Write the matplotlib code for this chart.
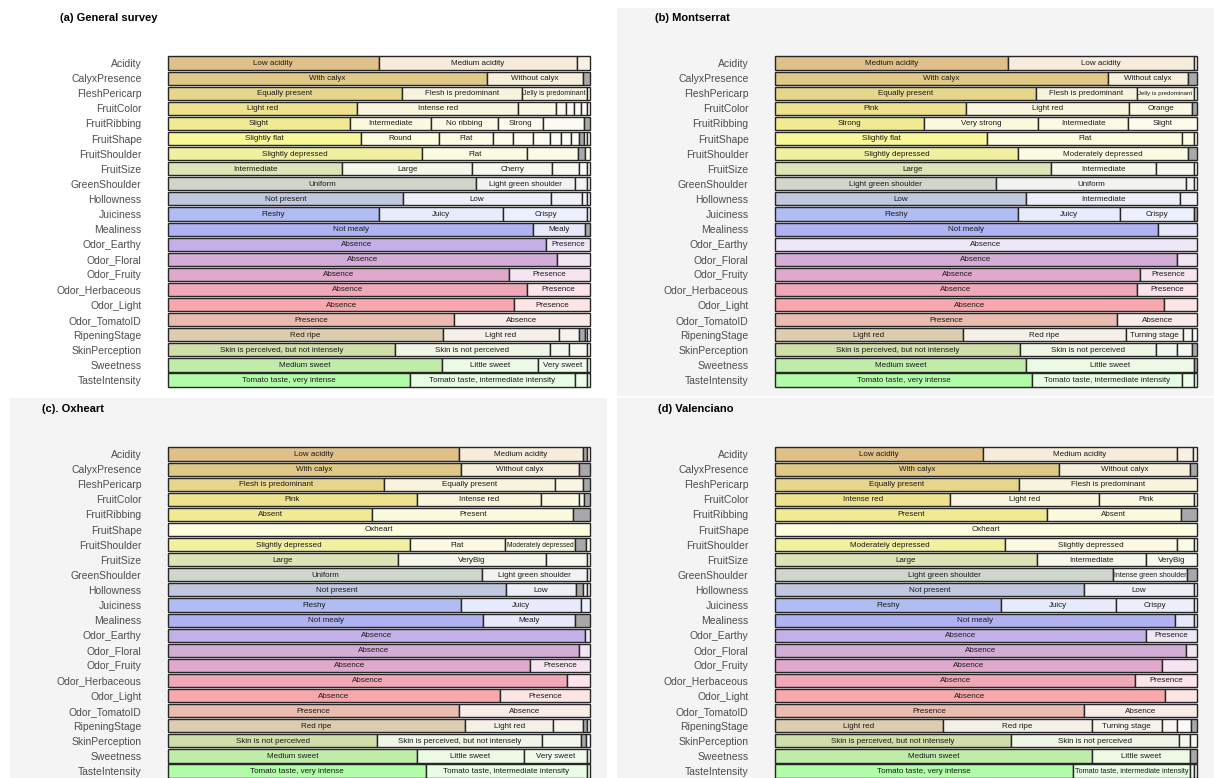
import matplotlib
matplotlib.use("Agg")
import matplotlib.pyplot as plt
from matplotlib.patches import Rectangle
from matplotlib.colors import to_rgb

plt.rcParams["font.family"] = ["Liberation Sans", "DejaVu Sans"]

W, H = 1214, 778

traits = ["Acidity", "CalyxPresence", "FleshPericarp", "FruitColor", "FruitRibbing",
          "FruitShape", "FruitShoulder", "FruitSize", "GreenShoulder", "Hollowness",
          "Juiciness", "Mealiness", "Odor_Earthy", "Odor_Floral", "Odor_Fruity",
          "Odor_Herbaceous", "Odor_Light", "Odor_TomatoID", "RipeningStage",
          "SkinPerception", "Sweetness", "TasteIntensity"]

trait_colors = ["#dfc089", "#e0c886", "#e6d68c", "#eee28e", "#f2ea92", "#f8f898",
                "#f0f0a0", "#dee4b8", "#d0d6cc", "#c0c8e0", "#b0bcf2", "#b0b2f4",
                "#c4b0e8", "#d4acd8", "#e0a8cc", "#f0a8b8", "#f8a8ac", "#eabcb0",
                "#dcccb0", "#d0deaa", "#c0ecaa", "#b0fca8"]

NA_COLOR = "#a8a8a8"

# (a) General survey
a_levels = [
    ["Low acidity", "Medium acidity", ""],
    ["With calyx", "Without calyx", "NA"],
    ["Equally present", "Flesh is predominant", "Jelly is predominant", ""],
    ["Light red", "Intense red", "", "", "", "", "", ""],
    ["Slight", "Intermediate", "No ribbing", "Strong", "", "NA"],
    ["Slightly flat", "Round", "Flat", "", "", "", "", "", "", "NA", "", ""],
    ["Slightly depressed", "Flat", "", "NA", ""],
    ["Intermediate", "Large", "Cherry", "", "", ""],
    ["Uniform", "Light green shoulder", "", ""],
    ["Not present", "Low", "", "", ""],
    ["Fleshy", "Juicy", "Crispy", ""],
    ["Not mealy", "Mealy", "NA"],
    ["Absence", "Presence"],
    ["Absence", "Presence"],
    ["Absence", "Presence"],
    ["Absence", "Presence"],
    ["Absence", "Presence"],
    ["Presence", "Absence"],
    ["Red ripe", "Light red", "", "NA", "", ""],
    ["Skin is perceived, but not intensely", "Skin is not perceived", "", "", ""],
    ["Medium sweet", "Little sweet", "Very sweet", ""],
    ["Tomato taste, very intense", "Tomato taste, intermediate intensity", "", ""],
]
a_shares = [
    [0.499, 0.471, 0.030],
    [0.755, 0.229, 0.016],
    [0.554, 0.285, 0.154, 0.007],
    [0.449, 0.381, 0.089, 0.024, 0.019, 0.017, 0.014, 0.007],
    [0.431, 0.193, 0.158, 0.107, 0.097, 0.014],
    [0.457, 0.185, 0.129, 0.047, 0.046, 0.042, 0.025, 0.025, 0.019, 0.011, 0.008, 0.006],
    [0.603, 0.248, 0.120, 0.018, 0.011],
    [0.413, 0.308, 0.190, 0.063, 0.018, 0.008],
    [0.730, 0.234, 0.028, 0.008],
    [0.556, 0.351, 0.075, 0.010, 0.008],
    [0.499, 0.296, 0.199, 0.006],
    [0.866, 0.123, 0.011],
    [0.895, 0.105],
    [0.921, 0.079],
    [0.809, 0.191],
    [0.851, 0.149],
    [0.821, 0.179],
    [0.678, 0.322],
    [0.651, 0.275, 0.049, 0.012, 0.007, 0.006],
    [0.538, 0.367, 0.046, 0.043, 0.006],
    [0.649, 0.227, 0.118, 0.006],
    [0.574, 0.390, 0.028, 0.008],
]

# (b) Montserrat
b_levels = [
    ["Medium acidity", "Low acidity", ""],
    ["With calyx", "Without calyx", "NA"],
    ["Equally present", "Flesh is predominant", "Jelly is predominant", ""],
    ["Pink", "Light red", "Orange", "NA"],
    ["Strong", "Very strong", "Intermediate", "Slight"],
    ["Slightly flat", "Flat", "", ""],
    ["Slightly depressed", "Moderately depressed", "NA"],
    ["Large", "Intermediate", "", ""],
    ["Light green shoulder", "Uniform", "", ""],
    ["Low", "Intermediate", ""],
    ["Fleshy", "Juicy", "Crispy", "NA"],
    ["Not mealy", "Mealy"],
    ["Absence"],
    ["Absence", "Presence"],
    ["Absence", "Presence"],
    ["Absence", "Presence"],
    ["Absence", "Presence"],
    ["Presence", "Absence"],
    ["Light red", "Red ripe", "Turning stage", "", ""],
    ["Skin is perceived, but not intensely", "Skin is not perceived", "", "", "NA"],
    ["Medium sweet", "Little sweet", "NA"],
    ["Tomato taste, very intense", "Tomato taste, intermediate intensity", "", ""],
]
b_shares = [
    [0.552, 0.441, 0.007],
    [0.789, 0.190, 0.021],
    [0.618, 0.239, 0.136, 0.007],
    [0.453, 0.386, 0.150, 0.011],
    [0.352, 0.272, 0.213, 0.163],
    [0.503, 0.462, 0.028, 0.007],
    [0.575, 0.404, 0.021],
    [0.653, 0.249, 0.091, 0.007],
    [0.524, 0.450, 0.019, 0.007],
    [0.595, 0.365, 0.040],
    [0.575, 0.243, 0.175, 0.007],
    [0.907, 0.093],
    [1.000],
    [0.952, 0.048],
    [0.864, 0.136],
    [0.857, 0.143],
    [0.921, 0.079],
    [0.811, 0.189],
    [0.445, 0.387, 0.134, 0.021, 0.013],
    [0.580, 0.322, 0.050, 0.037, 0.011],
    [0.595, 0.398, 0.007],
    [0.610, 0.355, 0.028, 0.007],
]

# (c) Oxheart
c_levels = [
    ["Low acidity", "Medium acidity", "NA", ""],
    ["With calyx", "Without calyx", "NA"],
    ["Flesh is predominant", "Equally present", "", "NA"],
    ["Pink", "Intense red", "", "", "NA"],
    ["Absent", "Present", "NA"],
    ["Oxheart"],
    ["Slightly depressed", "Flat", "Moderately depressed", "NA", ""],
    ["Large", "VeryBig", "", ""],
    ["Uniform", "Light green shoulder", ""],
    ["Not present", "Low", "NA", "", ""],
    ["Fleshy", "Juicy", ""],
    ["Not mealy", "Mealy", "NA"],
    ["Absence", "Presence"],
    ["Absence", "Presence"],
    ["Absence", "Presence"],
    ["Absence", "Presence"],
    ["Absence", "Presence"],
    ["Presence", "Absence"],
    ["Red ripe", "Light red", "", "NA", ""],
    ["Skin is not perceived", "Skin is perceived, but not intensely", "", "NA", ""],
    ["Medium sweet", "Little sweet", "Very sweet", ""],
    ["Tomato taste, very intense", "Tomato taste, intermediate intensity", ""],
]
c_shares = [
    [0.690, 0.293, 0.011, 0.006],
    [0.694, 0.281, 0.025],
    [0.511, 0.407, 0.065, 0.017],
    [0.589, 0.294, 0.092, 0.011, 0.014],
    [0.484, 0.476, 0.040],
    [1.000],
    [0.573, 0.226, 0.165, 0.027, 0.009],
    [0.545, 0.350, 0.097, 0.008],
    [0.743, 0.249, 0.008],
    [0.800, 0.168, 0.015, 0.009, 0.008],
    [0.694, 0.285, 0.021],
    [0.747, 0.218, 0.035],
    [0.987, 0.013],
    [0.975, 0.025],
    [0.859, 0.141],
    [0.945, 0.055],
    [0.786, 0.214],
    [0.690, 0.310],
    [0.704, 0.209, 0.070, 0.010, 0.007],
    [0.496, 0.391, 0.092, 0.012, 0.009],
    [0.589, 0.255, 0.150, 0.006],
    [0.612, 0.380, 0.008],
]

# (d) Valenciano
d_levels = [
    ["Low acidity", "Medium acidity", "", ""],
    ["With calyx", "Without calyx", "NA"],
    ["Equally present", "Flesh is predominant"],
    ["Intense red", "Light red", "Pink", ""],
    ["Present", "Absent", "NA"],
    ["Oxheart"],
    ["Moderately depressed", "Slightly depressed", "", ""],
    ["Large", "Intermediate", "VeryBig"],
    ["Light green shoulder", "Intense green shoulder", "NA"],
    ["Not present", "Low", ""],
    ["Fleshy", "Juicy", "Crispy", ""],
    ["Not mealy", "", ""],
    ["Absence", "Presence"],
    ["Absence", "Presence"],
    ["Absence", "Presence"],
    ["Absence", "Presence"],
    ["Absence", "Presence"],
    ["Presence", "Absence"],
    ["Light red", "Red ripe", "Turning stage", "", "", "NA"],
    ["Skin is perceived, but not intensely", "Skin is not perceived", "", ""],
    ["Medium sweet", "Little sweet", "NA"],
    ["Tomato taste, very intense", "Tomato taste, intermediate intensity", "", ""],
]
d_shares = [
    [0.492, 0.460, 0.039, 0.009],
    [0.672, 0.312, 0.016],
    [0.578, 0.422],
    [0.415, 0.352, 0.226, 0.007],
    [0.645, 0.316, 0.039],
    [1.000],
    [0.544, 0.408, 0.041, 0.007],
    [0.621, 0.258, 0.121],
    [0.801, 0.176, 0.023],
    [0.733, 0.260, 0.007],
    [0.535, 0.273, 0.185, 0.007],
    [0.948, 0.045, 0.007],
    [0.880, 0.120],
    [0.974, 0.026],
    [0.916, 0.084],
    [0.854, 0.146],
    [0.924, 0.076],
    [0.733, 0.267],
    [0.398, 0.352, 0.166, 0.036, 0.033, 0.015],
    [0.560, 0.398, 0.025, 0.017],
    [0.750, 0.233, 0.017],
    [0.707, 0.277, 0.009, 0.007],
]

# rows whose only / leading level is a minor level overall, so drawn in the pale shade
a_pale = []
b_pale = ["Odor_Earthy"]
c_pale = ["FruitShape"]
d_pale = ["FruitShape"]

titles = ["(a) General survey", "(b) Montserrat", "(c). Oxheart", "(d) Valenciano"]


def px(x, y):
    return x / W, 1 - y / H


def tint(color, k):
    # k = 0 full colour, higher k -> closer to white
    if k == 0:
        return to_rgb(color)
    t = min(0.70 + 0.06 * (k - 1), 0.90)
    r, g, b = to_rgb(color)
    return (r + (1 - r) * t, g + (1 - g) * t, b + (1 - b) * t)


fig = plt.figure(figsize=(W / 100, H / 100), dpi=100)

# grey panel backgrounds, kept underneath the axes
for (x0, y0, x1, y1) in [(617, 8, 1214, 396), (10, 398, 607, 778), (617, 398, 1214, 778)]:
    fig.patches.append(Rectangle(px(x0, y1), (x1 - x0) / W, (y1 - y0) / H,
                                 transform=fig.transFigure, facecolor="#f4f4f4",
                                 edgecolor="none", zorder=-5))

# bar area per panel: left, right, top, bottom (pixels), title position
panels = [
    (a_levels, a_shares, a_pale, (168, 590, 55.5, 387.6), (60, 18)),
    (b_levels, b_shares, b_pale, (775, 1197, 55.5, 387.6), (655, 18)),
    (c_levels, c_shares, c_pale, (168, 590, 446.5, 778.6), (42, 409)),
    (d_levels, d_shares, d_pale, (775, 1197, 446.5, 778.6), (658, 409)),
]

seg_texts = []
for (levels, shares, pale, (l, r, t, b), (tx, ty)), title in zip(panels, titles):
    x0, y0 = px(l, b)
    ax = fig.add_axes([x0, y0, (r - l) / W, (b - t) / H], zorder=2)
    ax.set_facecolor("none")
    for s in ax.spines.values():
        s.set_visible(False)
    ax.set_xlim(0, 1)
    ax.set_ylim(len(traits) - 0.5, -0.5)
    ax.set_xticks([])
    ax.set_yticks(range(len(traits)), traits)
    ax.tick_params(axis="y", length=0, pad=19, labelsize=7.5, labelcolor="#4d4d4d")

    for i, (names, vals) in enumerate(zip(levels, shares)):
        total = sum(vals)
        left = 0.0
        shift = 1 if traits[i] in pale else 0
        k = 0
        for name, v in zip(names, vals):
            w = v / total
            if name == "NA":
                fc = NA_COLOR
            else:
                fc = tint(trait_colors[i], k + shift)
                k += 1
            ax.barh(i, w, left=left, height=0.87, color=fc,
                    edgecolor="#262626", linewidth=1.0, clip_on=False)
            if name and name != "NA" and w >= 0.1:
                txt = ax.text(left + w / 2, i + 0.03, name, ha="center", va="center",
                              fontsize=5.8, color="#1a1a1a")
                seg_texts.append((txt, ax, w))
            left += w

    fig.text(*px(tx, ty), title, fontsize=8, fontweight="bold", va="center", ha="left")

# shrink labels that do not fit in their segment
fig.canvas.draw()
renderer = fig.canvas.get_renderer()
for txt, ax, w in seg_texts:
    avail = w * ax.bbox.width - 3
    have = txt.get_window_extent(renderer).width
    if have > avail:
        txt.set_fontsize(txt.get_fontsize() * avail / have)

fig.savefig("out.png", dpi=100)
